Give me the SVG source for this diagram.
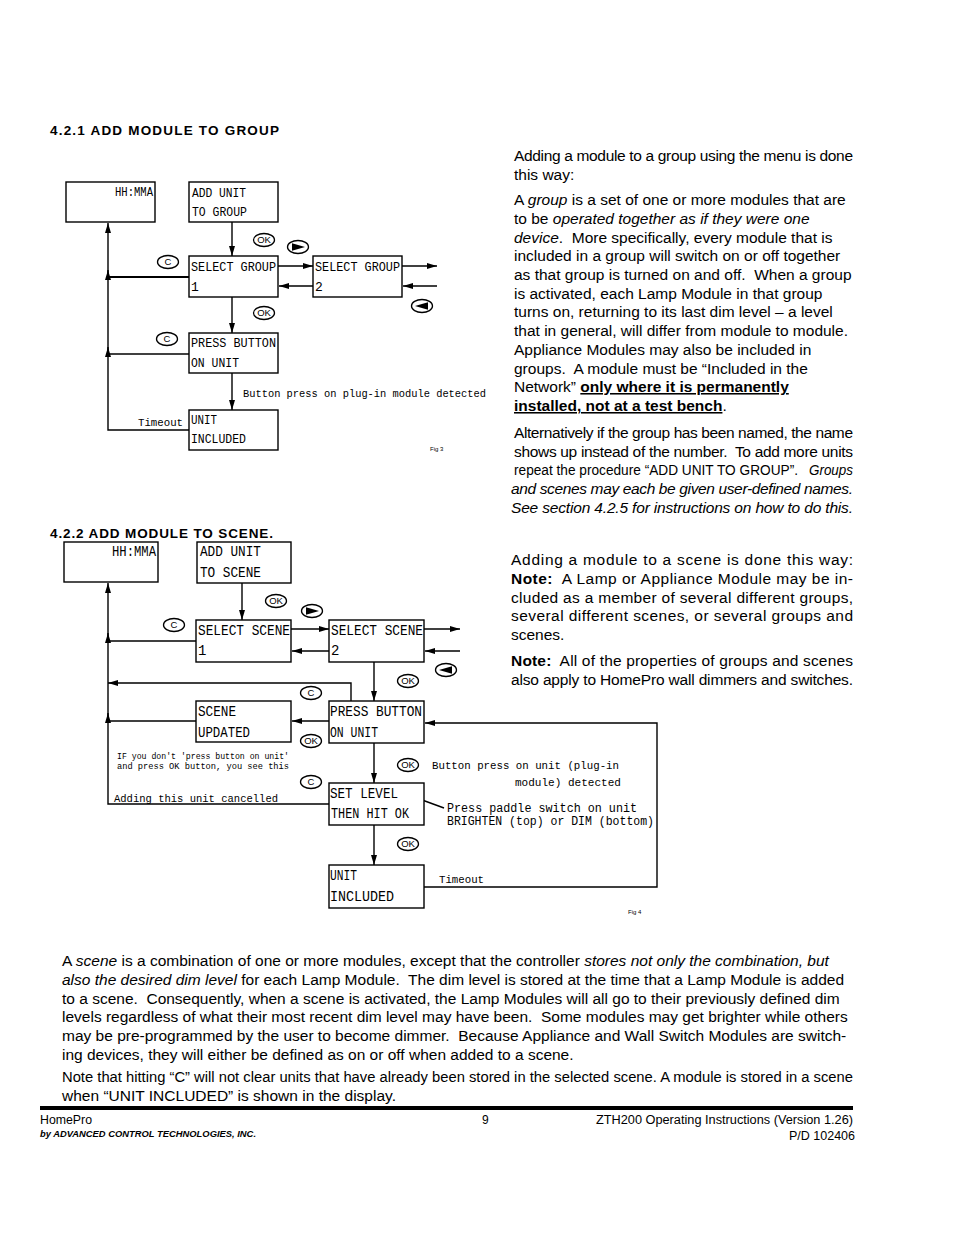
<svg xmlns="http://www.w3.org/2000/svg" xmlns:xlink="http://www.w3.org/1999/xlink" width="954" height="1235" viewBox="0 0 954 1235">
<style>
.box{fill:#fff;stroke:#000;stroke-width:1.4}
.ln{fill:none;stroke:#000;stroke-width:1.4}
.thk{fill:none;stroke:#000;stroke-width:2.2}
.lcd{font-family:"Liberation Mono","DejaVu Sans Mono",monospace;font-size:13px;fill:#000}
.lcd2{font-family:"Liberation Mono","DejaVu Sans Mono",monospace;font-size:14px;fill:#000}
.cad{font-family:"Liberation Mono","DejaVu Sans Mono",monospace;font-size:11.5px;fill:#000}
.tiny{font-family:"Liberation Sans",Arial,sans-serif;font-size:6px;fill:#000}
.btn{fill:#fff;stroke:#000;stroke-width:1.3}
.btt{font-family:"Liberation Sans",Arial,sans-serif;font-size:9.5px;fill:#000;text-anchor:middle}
.h{font-family:"Liberation Sans",Arial,sans-serif;font-size:13.5px;font-weight:bold;fill:#000}
.p{font-family:"Liberation Sans",Arial,sans-serif;font-size:15.5px;fill:#000;white-space:pre}
.i{font-style:italic}
.b{font-weight:bold}
.u{text-decoration:underline}
.f{font-family:"Liberation Sans",Arial,sans-serif;font-size:12px;fill:#000}
</style>
<defs>
<marker id="ah" viewBox="0 0 10 6" refX="10" refY="3" markerWidth="10" markerHeight="6" markerUnits="userSpaceOnUse" orient="auto"><path d="M0,0 L10,3 L0,6 z" fill="#000"/></marker>
<g id="ok"><ellipse class="btn" cx="0" cy="0" rx="10.5" ry="6.5"/><text class="btt" x="0" y="3.4">OK</text></g>
<g id="cb"><ellipse class="btn" cx="0" cy="0" rx="10.5" ry="6.5"/><text class="btt" x="0" y="3.4">C</text></g>
<g id="rb"><ellipse class="btn" cx="0" cy="0" rx="10.5" ry="6.5"/><path d="M-6,-3.8 L7,0 L-6,3.8 z" fill="#000"/></g>
<g id="lb"><ellipse class="btn" cx="0" cy="0" rx="10.5" ry="6.5"/><path d="M6,-3.8 L-7,0 L6,3.8 z" fill="#000"/></g>
</defs>
<rect width="954" height="1235" fill="#fff"/>

<!-- headings -->
<text class="h" x="50" y="135" textLength="229">4.2.1 ADD MODULE TO GROUP</text>
<text class="h" x="50" y="538" textLength="223">4.2.2 ADD MODULE TO SCENE.</text>

<!-- ===== Fig 3 ===== -->
<g id="connectors-fig3">
<path class="ln" d="M232,222 V256" marker-end="url(#ah)"/>
<path class="ln" d="M278,266 H313" marker-end="url(#ah)"/>
<path class="ln" d="M313,286 H279" marker-end="url(#ah)"/>
<path class="ln" d="M402,266 H437" marker-end="url(#ah)"/>
<path class="ln" d="M437,286 H403" marker-end="url(#ah)"/>
<path class="ln" d="M232,297 V333" marker-end="url(#ah)"/>
<path class="ln" d="M232,373 V410" marker-end="url(#ah)"/>
<path class="thk" d="M189,277 H108"/>
<path class="ln" d="M189,354 H108"/>
<path class="ln" d="M189,430 H108 V223" marker-end="url(#ah)"/>
<path class="ln" d="M108,280 V270" marker-end="url(#ah)"/>
<path class="ln" d="M108,357 V347" marker-end="url(#ah)"/>
</g>
<g id="n3-hhmma"><rect class="box" x="66" y="182" width="89" height="40"/><text class="lcd" x="115" y="196" textLength="38" lengthAdjust="spacingAndGlyphs">HH:MMA</text></g>
<g id="n3-add"><rect class="box" x="189" y="182" width="89" height="40"/><text class="lcd" x="192" y="197" textLength="54" lengthAdjust="spacingAndGlyphs">ADD UNIT</text><text class="lcd" x="192" y="216" textLength="55" lengthAdjust="spacingAndGlyphs">TO GROUP</text></g>
<g id="n3-sel1"><rect class="box" x="189" y="256" width="89" height="41"/><text class="lcd" x="191" y="271" textLength="85" lengthAdjust="spacingAndGlyphs">SELECT GROUP</text><text class="lcd" x="191" y="291">1</text></g>
<g id="n3-sel2"><rect class="box" x="313" y="256" width="89" height="41"/><text class="lcd" x="315" y="271" textLength="85" lengthAdjust="spacingAndGlyphs">SELECT GROUP</text><text class="lcd" x="315" y="291">2</text></g>
<g id="n3-press"><rect class="box" x="189" y="333" width="89" height="40"/><text class="lcd" x="191" y="347" textLength="85" lengthAdjust="spacingAndGlyphs">PRESS BUTTON</text><text class="lcd" x="191" y="367" textLength="48" lengthAdjust="spacingAndGlyphs">ON UNIT</text></g>
<g id="n3-incl"><rect class="box" x="189" y="410" width="89" height="40"/><text class="lcd" x="191" y="424" textLength="26" lengthAdjust="spacingAndGlyphs">UNIT</text><text class="lcd" x="191" y="443" textLength="55" lengthAdjust="spacingAndGlyphs">INCLUDED</text></g>
<g id="labels-fig3">
<use xlink:href="#ok" x="264" y="240"/>
<use xlink:href="#rb" x="298" y="247"/>
<use xlink:href="#cb" x="168" y="262"/>
<use xlink:href="#lb" x="422" y="306"/>
<use xlink:href="#ok" x="264" y="313"/>
<use xlink:href="#cb" x="167" y="339"/>
<text class="cad" x="243" y="397" textLength="243" lengthAdjust="spacingAndGlyphs">Button press on plug-in module detected</text>
<text class="cad" x="138" y="426" textLength="45" lengthAdjust="spacingAndGlyphs">Timeout</text>
<text class="tiny" x="430" y="451">Fig 3</text>
</g>

<!-- ===== Fig 4 ===== -->
<g id="connectors-fig4">
<path class="ln" d="M242,583 V620" marker-end="url(#ah)"/>
<path class="ln" d="M291,629 H329" marker-end="url(#ah)"/>
<path class="ln" d="M329,651 H292" marker-end="url(#ah)"/>
<path class="ln" d="M424,629 H460" marker-end="url(#ah)"/>
<path class="ln" d="M460,651 H425" marker-end="url(#ah)"/>
<path class="ln" d="M374,662 V701" marker-end="url(#ah)"/>
<path class="ln" d="M351,701 V683 H108" marker-end="url(#ah)"/>
<path class="ln" d="M329,721 H292" marker-end="url(#ah)"/>
<path class="ln" d="M196,721 H108"/>
<path class="ln" d="M196,641 H108"/>
<path class="ln" d="M108,723 V713" marker-end="url(#ah)"/>
<path class="ln" d="M108,643 V633" marker-end="url(#ah)"/>
<path class="ln" d="M329,804 H108 V583" marker-end="url(#ah)"/>
<path class="ln" d="M374,743 V783" marker-end="url(#ah)"/>
<path class="ln" d="M374,825 V865" marker-end="url(#ah)"/>
<path class="ln" d="M424,887 H657 V723 H425" marker-end="url(#ah)"/>
<path class="ln" d="M414,797 L444,808"/>
</g>
<g id="n4-hhmma"><rect class="box" x="64" y="542" width="94" height="40"/><text class="lcd2" x="112" y="556" textLength="44" lengthAdjust="spacingAndGlyphs">HH:MMA</text></g>
<g id="n4-add"><rect class="box" x="197" y="542" width="94" height="41"/><text class="lcd2" x="200" y="556" textLength="61" lengthAdjust="spacingAndGlyphs">ADD UNIT</text><text class="lcd2" x="200" y="577" textLength="61" lengthAdjust="spacingAndGlyphs">TO SCENE</text></g>
<g id="n4-sel1"><rect class="box" x="196" y="620" width="95" height="42"/><text class="lcd2" x="198" y="635" textLength="92" lengthAdjust="spacingAndGlyphs">SELECT SCENE</text><text class="lcd2" x="198" y="655">1</text></g>
<g id="n4-sel2"><rect class="box" x="329" y="620" width="95" height="42"/><text class="lcd2" x="331" y="635" textLength="92" lengthAdjust="spacingAndGlyphs">SELECT SCENE</text><text class="lcd2" x="331" y="655">2</text></g>
<g id="n4-updated"><rect class="box" x="196" y="701" width="95" height="41"/><text class="lcd2" x="198" y="716" textLength="38" lengthAdjust="spacingAndGlyphs">SCENE</text><text class="lcd2" x="198" y="737" textLength="52" lengthAdjust="spacingAndGlyphs">UPDATED</text></g>
<g id="n4-press"><rect class="box" x="329" y="701" width="95" height="42"/><text class="lcd2" x="330" y="716" textLength="92" lengthAdjust="spacingAndGlyphs">PRESS BUTTON</text><text class="lcd2" x="330" y="737" textLength="48" lengthAdjust="spacingAndGlyphs">ON UNIT</text></g>
<g id="n4-level"><rect class="box" x="329" y="783" width="95" height="42"/><text class="lcd2" x="330" y="798" textLength="68" lengthAdjust="spacingAndGlyphs">SET LEVEL</text><text class="lcd2" x="331" y="818" textLength="78" lengthAdjust="spacingAndGlyphs">THEN HIT OK</text></g>
<g id="n4-incl"><rect class="box" x="329" y="865" width="95" height="43"/><text class="lcd2" x="330" y="880" textLength="27" lengthAdjust="spacingAndGlyphs">UNIT</text><text class="lcd2" x="330" y="901" textLength="64" lengthAdjust="spacingAndGlyphs">INCLUDED</text></g>
<g id="labels-fig4">
<use xlink:href="#ok" x="276" y="601"/>
<use xlink:href="#rb" x="312" y="611"/>
<use xlink:href="#cb" x="174" y="625"/>
<use xlink:href="#lb" x="446" y="670"/>
<use xlink:href="#ok" x="408" y="681"/>
<use xlink:href="#cb" x="311" y="693"/>
<use xlink:href="#ok" x="311" y="741"/>
<use xlink:href="#ok" x="408" y="765"/>
<use xlink:href="#cb" x="311" y="782"/>
<use xlink:href="#ok" x="408" y="844"/>
<text class="cad" x="117" y="759" style="font-size:9px" textLength="172" lengthAdjust="spacingAndGlyphs">IF you don't 'press button on unit'</text>
<text class="cad" x="117" y="769" style="font-size:9px" textLength="172" lengthAdjust="spacingAndGlyphs">and press OK button, you see this</text>
<text class="cad" x="114" y="802" textLength="164" lengthAdjust="spacingAndGlyphs">Adding this unit cancelled</text>
<text class="cad" x="432" y="769" textLength="187" lengthAdjust="spacingAndGlyphs">Button press on unit (plug-in</text>
<text class="cad" x="515" y="786" textLength="106" lengthAdjust="spacingAndGlyphs">module) detected</text>
<text class="cad" x="447" y="812" style="font-size:12px" textLength="190" lengthAdjust="spacingAndGlyphs">Press paddle switch on unit</text>
<text class="cad" x="447" y="825" style="font-size:12px" textLength="207" lengthAdjust="spacingAndGlyphs">BRIGHTEN (top) or DIM (bottom)</text>
<text class="cad" x="439" y="883" textLength="45" lengthAdjust="spacingAndGlyphs">Timeout</text>
<text class="tiny" x="628" y="914">Fig 4</text>
</g>

<!-- ===== right column text (group) ===== -->
<g id="text-group">
<text class="p" x="514" y="161" textLength="339">Adding a module to a group using the menu is done</text>
<text class="p" x="514" y="180">this way:</text>
<text class="p" x="514" y="205">A <tspan class="i">group</tspan> is a set of one or more modules that are</text>
<text class="p" x="514" y="224">to be <tspan class="i">operated together as if they were one</tspan></text>
<text class="p" x="514" y="243"><tspan class="i">device</tspan>.  More specifically, every module that is</text>
<text class="p" x="514" y="261">included in a group will switch on or off together</text>
<text class="p" x="514" y="280">as that group is turned on and off.  When a group</text>
<text class="p" x="514" y="299">is activated, each Lamp Module in that group</text>
<text class="p" x="514" y="317">turns on, returning to its last dim level – a level</text>
<text class="p" x="514" y="336">that in general, will differ from module to module.</text>
<text class="p" x="514" y="355">Appliance Modules may also be included in</text>
<text class="p" x="514" y="374">groups.  A module must be “Included in the</text>
<text class="p" x="514" y="392">Network” <tspan class="b u">only where it is permanently</tspan></text>
<text class="p" x="514" y="411"><tspan class="b u">installed, not at a test bench</tspan>.</text>
<text class="p" x="514" y="438" textLength="339">Alternatively if the group has been named, the name</text>
<text class="p" x="514" y="457" textLength="339">shows up instead of the number.  To add more units</text>
<text class="p" x="514" y="475" style="font-size:14px" textLength="284" lengthAdjust="spacingAndGlyphs">repeat the procedure “ADD UNIT TO GROUP”.</text>
<text class="p i" x="809" y="475" style="font-size:13.8px" textLength="44" lengthAdjust="spacingAndGlyphs">Groups</text>
<text class="p i" x="511" y="494" textLength="342">and scenes may each be given user-defined names.</text>
<text class="p i" x="511" y="513" textLength="342">See section 4.2.5 for instructions on how to do this.</text>
</g>

<!-- ===== right column text (scene) ===== -->
<g id="text-scene">
<text class="p" x="511" y="565" textLength="342">Adding a module to a scene is done this way:</text>
<text class="p" x="511" y="584" textLength="342"><tspan class="b">Note:</tspan>  A Lamp or Appliance Module may be in-</text>
<text class="p" x="511" y="603" textLength="342">cluded as a member of several different groups,</text>
<text class="p" x="511" y="621" textLength="342">several different scenes, or several groups and</text>
<text class="p" x="511" y="640">scenes.</text>
<text class="p" x="511" y="666" textLength="342"><tspan class="b">Note:</tspan>  All of the properties of groups and scenes</text>
<text class="p" x="511" y="685" textLength="342">also apply to HomePro wall dimmers and switches.</text>
</g>

<!-- ===== bottom text ===== -->
<g id="text-bottom">
<text class="p" x="62" y="966">A <tspan class="i">scene</tspan> is a combination of one or more modules, except that the controller <tspan class="i">stores not only the combination, but</tspan></text>
<text class="p" x="62" y="985"><tspan class="i">also the desired dim level</tspan> for each Lamp Module.  The dim level is stored at the time that a Lamp Module is added</text>
<text class="p" x="62" y="1004">to a scene.  Consequently, when a scene is activated, the Lamp Modules will all go to their previously defined dim</text>
<text class="p" x="62" y="1022">levels regardless of what their most recent dim level may have been.  Some modules may get brighter while others</text>
<text class="p" x="62" y="1041">may be pre-programmed by the user to become dimmer.  Because Appliance and Wall Switch Modules are switch-</text>
<text class="p" x="62" y="1060">ing devices, they will either be defined as on or off when added to a scene.</text>
<text class="p" x="62" y="1082" textLength="791" lengthAdjust="spacingAndGlyphs">Note that hitting “C” will not clear units that have already been stored in the selected scene. A module is stored in a scene</text>
<text class="p" x="62" y="1101" textLength="334">when “UNIT INCLUDED” is shown in the display.</text>
</g>

<!-- ===== footer ===== -->
<g id="footer">
<rect x="40" y="1106" width="813" height="4" fill="#000"/>
<text class="f" x="40" y="1124" textLength="52" lengthAdjust="spacingAndGlyphs">HomePro</text>
<text class="f" x="40" y="1137" style="font-size:8.5px;font-weight:bold;font-style:italic" textLength="216" lengthAdjust="spacingAndGlyphs">by ADVANCED CONTROL TECHNOLOGIES, INC.</text>
<text class="f" x="482" y="1124">9</text>
<text class="f" x="596" y="1124" textLength="257" lengthAdjust="spacingAndGlyphs">ZTH200 Operating Instructions (Version 1.26)</text>
<text class="f" x="789" y="1140" textLength="66" lengthAdjust="spacingAndGlyphs">P/D 102406</text>
</g>
</svg>
